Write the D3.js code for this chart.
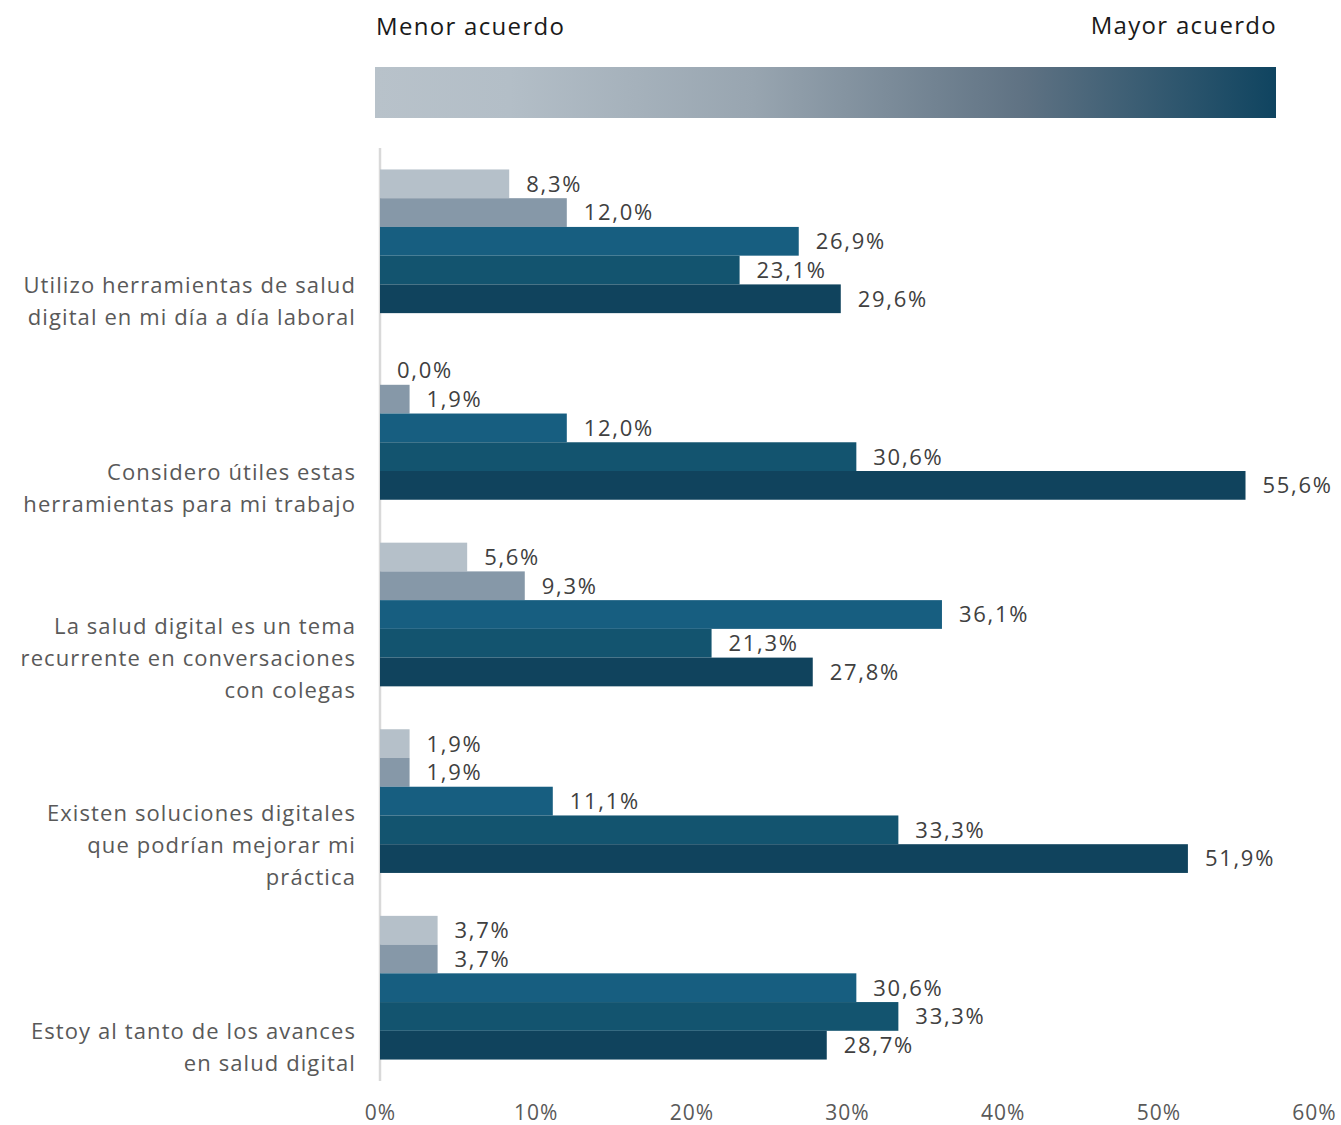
<!DOCTYPE html>
<html>
<head>
<meta charset="utf-8">
<script src="https://cdn.jsdelivr.net/npm/d3@7"></script>
<style>
  body { margin: 0; background: #fff; }
  text { font-family: "Open Sans", "Noto Sans", sans-serif; }
</style>
</head>
<body>
<div id="app"></div>
<script>
// categories (top to bottom), each label split in lines
const categories = [
  ["Utilizo herramientas de salud", "digital en mi día a día laboral"],
  ["Considero útiles estas", "herramientas para mi trabajo"],
  ["La salud digital es un tema", "recurrente en conversaciones", "con colegas"],
  ["Existen soluciones digitales", "que podrían mejorar mi", "práctica"],
  ["Estoy al tanto de los avances", "en salud digital"]
]
// agreement levels 1 (menor) .. 5 (mayor)
const levels = ["1", "2", "3", "4", "5"]
const level1 = [8.3, 0.0, 5.6, 1.9, 3.7]
const level2 = [12.0, 1.9, 9.3, 1.9, 3.7]
const level3 = [26.9, 12.0, 36.1, 11.1, 30.6]
const level4 = [23.1, 30.6, 21.3, 33.3, 33.3]
const level5 = [29.6, 55.6, 27.8, 51.9, 28.7]
const series = [level1, level2, level3, level4, level5]
const colors = ["#b5c0c9", "#8698a8", "#175e80", "#13546f", "#10435d"]
const ticks = [0, 10, 20, 30, 40, 50, 60]

const W = 1341, H = 1125

const svg = d3.select("#app")
  .append("svg")
    .attr("width", W)
    .attr("height", H)

// gradient legend
const defs = svg.append("defs")
const grad = defs.append("linearGradient").attr("id", "g").attr("x1", "0%").attr("x2", "100%")
grad.append("stop").attr("offset", "0%").attr("stop-color", "#b8c2ca")
grad.append("stop").attr("offset", "15%").attr("stop-color", "#b3bec7")
grad.append("stop").attr("offset", "42%").attr("stop-color", "#98a5b0")
grad.append("stop").attr("offset", "72%").attr("stop-color", "#5f7283")
grad.append("stop").attr("offset", "100%").attr("stop-color", "#0f4460")

svg.append("rect")
    .attr("x", 375).attr("y", 67)
    .attr("width", 901).attr("height", 51)
    .attr("fill", "url(#g)")

svg.append("text")
    .attr("x", 376).attr("y", 35)
    .attr("font-size", 24).attr("letter-spacing", 1.3).attr("fill", "#1a1a1a")
    .text("Menor acuerdo")
svg.append("text")
    .attr("x", 1277).attr("y", 34)
    .attr("text-anchor", "end")
    .attr("font-size", 24).attr("letter-spacing", 1.3).attr("fill", "#1a1a1a")
    .text("Mayor acuerdo")

// scales
const x = d3.scaleLinear().domain([0, 60]).range([380, 1314])
const y = d3.scaleBand().domain(d3.range(categories.length)).range([148, 1081])
    .paddingInner(0.23).paddingOuter(0.115)
const ySub = d3.scaleBand().domain(levels).range([0, y.bandwidth()])

// axis line
svg.append("line")
    .attr("x1", x(0)).attr("x2", x(0))
    .attr("y1", 148).attr("y2", 1081)
    .attr("stroke", "#d9d9d9").attr("stroke-width", 2.5)

// x axis labels
const xAxis = d3.axisBottom(x).tickValues(ticks).tickFormat(d => d + "%").tickSize(0).tickPadding(0)
const gx = svg.append("g").attr("transform", "translate(0,1120)").call(xAxis)
gx.select(".domain").remove()
gx.selectAll("text")
    .attr("dy", 0).attr("y", 0)
    .attr("font-size", 21).attr("letter-spacing", 1).attr("fill", "#595959")
    .style("font-family", "'Open Sans', sans-serif")

// bars
const groups = svg.selectAll("g.grp")
  .data(categories)
  .join("g")
    .attr("class", "grp")
    .attr("transform", (d, i) => `translate(0,${y(i)})`)

groups.each(function (cat, i) {
  const g = d3.select(this)
  const rows = levels.map((l, k) => ({ level: l, value: series[k][i], color: colors[k] }))
  g.selectAll("rect")
    .data(rows)
    .join("rect")
      .attr("x", x(0))
      .attr("y", d => ySub(d.level))
      .attr("width", d => x(d.value) - x(0))
      .attr("height", ySub.bandwidth())
      .attr("fill", d => d.color)
  g.selectAll("text.val")
    .data(rows)
    .join("text")
      .attr("class", "val")
      .attr("x", d => x(d.value) + 17)
      .attr("y", d => ySub(d.level) + ySub.bandwidth() / 2)
      .attr("dy", "0.36em")
      .attr("font-size", 22)
      .attr("letter-spacing", 1.7)
      .attr("fill", "#404040")
      .text(d => d.value.toFixed(1).replace(".", ",") + "%")

  // category label: last line sits near the bottom of the group
  const n = cat.length
  const bottom = y.bandwidth() + 4
  g.append("text")
      .attr("text-anchor", "end")
      .attr("font-size", 22)
      .attr("letter-spacing", 1.1)
      .attr("fill", "#595959")
    .selectAll("tspan")
    .data(cat)
    .join("tspan")
      .attr("x", 356)
      .attr("y", (d, j) => bottom - (n - 1 - j) * 32)
      .attr("dy", "0.36em")
      .text(d => d)
})
</script>
</body>
</html>
